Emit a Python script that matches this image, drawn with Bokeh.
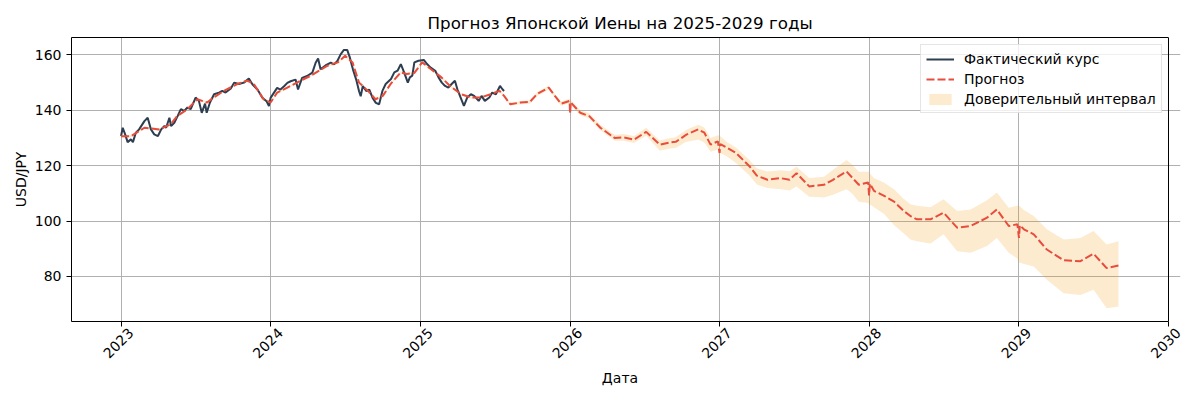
import math
import pandas as pd
from bokeh.plotting import figure
from bokeh.models import (Range1d, FixedTicker, Legend, LegendItem, ColumnDataSource,
                          DatetimeAxis, Span)
from bokeh.embed import file_html
from bokeh.resources import INLINE

# ---------------- data ----------------
actual_dates = [
    "2023-01-01", "2023-01-05", "2023-01-11", "2023-01-17", "2023-01-25", "2023-01-30",
    "2023-02-06", "2023-02-14", "2023-02-27", "2023-03-07", "2023-03-15", "2023-03-23",
    "2023-04-01", "2023-04-09", "2023-04-17", "2023-04-21", "2023-04-29", "2023-05-03",
    "2023-05-11", "2023-05-19", "2023-05-27", "2023-06-04", "2023-06-12", "2023-06-20",
    "2023-07-02", "2023-07-10", "2023-07-17", "2023-07-25", "2023-07-29", "2023-08-06",
    "2023-08-16", "2023-08-28", "2023-09-05", "2023-09-13", "2023-09-26", "2023-10-04",
    "2023-10-16", "2023-10-28", "2023-11-09", "2023-11-18", "2023-11-30", "2023-12-12",
    "2023-12-22", "2023-12-28",
    "2024-01-01", "2024-01-09", "2024-01-17", "2024-01-25", "2024-02-03", "2024-02-11",
    "2024-02-19", "2024-03-02", "2024-03-08", "2024-03-18", "2024-03-30", "2024-04-12",
    "2024-04-20", "2024-04-26", "2024-05-02", "2024-05-14", "2024-05-27", "2024-06-04",
    "2024-06-12", "2024-06-20", "2024-06-28", "2024-07-06", "2024-07-12", "2024-07-20",
    "2024-07-28", "2024-08-04", "2024-08-08", "2024-08-13", "2024-08-22", "2024-08-29",
    "2024-09-06", "2024-09-14", "2024-09-22", "2024-09-30", "2024-10-08", "2024-10-21",
    "2024-10-29", "2024-11-06", "2024-11-14", "2024-11-22", "2024-12-01", "2024-12-06",
    "2024-12-12", "2024-12-17", "2024-12-27",
    "2025-01-09", "2025-01-17", "2025-01-25", "2025-02-06", "2025-02-14", "2025-02-22",
    "2025-03-02", "2025-03-10", "2025-03-18", "2025-03-26", "2025-04-01", "2025-04-09",
    "2025-04-17", "2025-04-25", "2025-05-04", "2025-05-12", "2025-05-23", "2025-05-30",
    "2025-06-07", "2025-06-18", "2025-06-25", "2025-07-04", "2025-07-14", "2025-07-20",
    "2025-07-24",
]
actual_values = [
    130.7, 133.7, 131.3, 128.5, 129.5, 128.5,
    131.9, 133.1, 136.1, 137.3, 133.1, 131.3,
    130.7, 133.1, 134.3, 133.7, 137.3, 134.3,
    135.5, 137.9, 140.4, 139.8, 141.0, 140.4,
    144.6, 143.4, 139.1, 142.4, 139.1, 142.8,
    145.8, 146.4, 147.0, 146.4, 147.9, 150.0,
    149.5, 150.0, 151.5, 149.3, 147.5, 144.5,
    143.3, 141.5,
    144.5, 146.3, 148.1, 147.5, 148.7, 149.9,
    150.5, 151.1, 147.5, 151.7, 152.4, 153.6,
    157.2, 158.7, 154.8, 156.2, 157.2, 156.6,
    157.8, 160.2, 161.8, 161.8, 159.3, 154.8,
    151.1, 146.9, 145.1, 148.7, 146.9, 147.5,
    144.5, 142.7, 142.2, 147.0, 149.5, 151.3,
    153.7, 154.3, 156.7, 153.7, 150.0, 151.9,
    152.5, 157.3, 157.9,
    158.2, 156.7, 155.5, 154.3, 151.9, 150.0,
    148.8, 148.2, 149.5, 150.7, 147.6, 144.6,
    141.6, 144.6, 145.8, 145.2, 143.4, 145.2,
    143.4, 144.6, 146.4, 145.8, 148.8, 147.6,
    147.0,
]

forecast_dates = [
    # 2023
    "2023-01-01", "2023-01-25", "2023-02-27", "2023-04-04", "2023-05-02", "2023-05-18",
    "2023-06-12", "2023-07-06", "2023-07-30", "2023-08-15", "2023-09-09", "2023-10-12",
    "2023-11-05", "2023-11-21", "2023-12-15",
    # 2024
    "2024-01-01", "2024-01-17", "2024-02-11", "2024-03-14", "2024-04-08", "2024-05-19",
    "2024-06-13", "2024-07-01", "2024-07-19", "2024-08-04", "2024-08-26", "2024-09-13",
    "2024-10-01", "2024-10-20", "2024-11-14", "2024-11-28", "2024-12-17",
    # 2025
    "2025-01-05", "2025-01-26", "2025-02-21", "2025-03-14", "2025-04-10", "2025-05-05",
    "2025-05-27", "2025-06-21", "2025-07-13", "2025-07-24",
    "2025-08-08", "2025-09-02", "2025-09-25", "2025-10-12", "2025-11-10", "2025-11-25",
    "2025-12-10", "2025-12-31",
    # 2026
    "2026-01-01", "2026-01-03", "2026-01-26", "2026-02-17", "2026-03-16", "2026-04-20",
    "2026-05-12", "2026-06-06", "2026-07-06", "2026-08-08", "2026-09-02", "2026-09-16",
    "2026-10-12", "2026-11-10", "2026-11-25", "2026-12-10", "2026-12-28",
    # 2027
    "2027-01-01", "2027-01-03", "2027-01-20", "2027-02-10", "2027-03-15", "2027-04-02",
    "2027-04-28", "2027-05-30", "2027-06-21", "2027-07-08", "2027-08-08", "2027-09-13",
    "2027-10-05", "2027-11-07", "2027-11-20", "2027-12-07", "2027-12-30",
    # 2028
    "2028-01-01", "2028-01-03", "2028-01-13", "2028-02-07", "2028-03-02", "2028-03-26",
    "2028-04-11", "2028-04-27", "2028-05-30", "2028-07-01", "2028-08-03", "2028-09-05",
    "2028-10-15", "2028-11-08", "2028-12-07", "2028-12-28",
    # 2029
    "2029-01-01", "2029-01-03", "2029-01-13", "2029-02-06", "2029-03-10", "2029-04-20",
    "2029-05-31", "2029-07-02", "2029-08-03", "2029-09-01",
]
forecast_values = [
    130.6, 130.6, 133.7, 133.1, 134.9, 137.9,
    140.4, 144.0, 142.8, 144.6, 147.0, 149.5,
    150.7, 149.5, 144.0,
    142.8, 146.4, 148.2, 150.7, 152.5, 156.1,
    157.3, 159.7, 157.3, 150.0, 147.0, 144.0,
    145.2, 149.5, 153.7, 153.1, 153.5,
    157.3, 154.9, 151.9, 148.8, 145.8, 144.6,
    144.6, 145.8, 147.0, 145.2,
    142.2, 142.8, 143.0, 145.8, 148.2, 145.2,
    142.4, 143.4,
    138.8, 142.8, 139.1, 137.9, 133.7, 130.0,
    130.2, 129.4, 132.2, 127.6, 128.4, 128.6,
    131.2, 133.1, 131.9, 127.6, 128.8,
    124.6, 127.8, 126.4, 124.6, 119.8, 116.4,
    114.9, 115.5, 114.9, 117.3, 112.5, 113.1,
    114.9, 117.9, 115.8, 113.1, 113.9,
    109.2, 113.5, 110.9, 109.1, 107.0, 103.6,
    101.8, 100.6, 100.6, 103.0, 97.6, 98.2,
    101.2, 104.2, 98.2, 98.8,
    93.9, 98.5, 97.0, 95.2, 89.7, 85.8,
    85.5, 88.2, 83.0, 83.9,
]
ci_lower = [
    130.2, 130.2, 133.3, 132.7, 134.5, 137.5,
    140.0, 143.6, 142.4, 144.2, 146.6, 149.1,
    150.3, 149.1, 143.6,
    142.4, 146.0, 147.8, 150.3, 152.1, 155.7,
    156.9, 159.3, 156.9, 149.6, 146.6, 143.6,
    144.8, 149.1, 153.3, 152.7, 153.1,
    156.9, 154.5, 151.5, 148.4, 145.4, 144.2,
    144.2, 145.4, 146.6, 144.8,
    141.7, 142.2, 142.4, 145.1, 147.5, 144.5,
    141.6, 142.6,
    138.3, 142.0, 138.2, 137.0, 132.8, 129.0,
    129.0, 128.2, 130.8, 125.4, 126.2, 126.4,
    128.6, 129.4, 128.4, 125.0, 125.8,
    121.0, 124.6, 123.2, 121.0, 116.4, 113.2,
    111.9, 111.5, 111.0, 112.5, 108.8, 108.5,
    109.5, 111.5, 110.0, 107.0, 106.5,
    106.0, 106.0, 105.0, 102.5, 98.5, 95.5,
    93.3, 92.7, 91.9, 95.2, 89.1, 88.5,
    91.0, 93.9, 88.5, 86.5,
    84.8, 85.0, 84.5, 83.6, 78.8, 73.9,
    73.3, 75.2, 68.5, 69.1,
]
ci_upper = [
    131.0, 131.0, 134.1, 133.5, 135.3, 138.3,
    140.8, 144.4, 143.2, 145.0, 147.4, 149.9,
    151.1, 149.9, 144.4,
    143.2, 146.8, 148.6, 151.1, 152.9, 156.5,
    157.7, 160.1, 157.7, 150.4, 147.4, 144.4,
    145.6, 149.9, 154.1, 153.5, 153.9,
    157.7, 155.3, 152.3, 149.2, 146.2, 145.0,
    145.0, 146.2, 147.4, 145.6,
    142.7, 143.4, 143.6, 146.5, 148.9, 145.9,
    143.2, 144.2,
    144.0, 143.6, 140.0, 138.9, 134.8, 131.2,
    131.4, 130.7, 133.7, 129.1, 130.0, 130.3,
    133.0, 134.8, 133.8, 130.0, 131.0,
    130.8, 130.6, 128.5, 126.6, 122.0, 119.0,
    117.9, 118.3, 118.0, 119.6, 115.5, 116.0,
    118.5, 122.0, 120.5, 117.8, 117.8,
    117.8, 117.2, 115.5, 113.8, 111.5, 108.0,
    106.1, 105.5, 105.0, 107.9, 103.6, 104.2,
    107.5, 110.3, 104.8, 105.5,
    105.5, 105.3, 104.0, 101.8, 97.0, 93.3,
    93.9, 96.4, 91.5, 92.7,
]

x_tick_dates = ["2023-01-01", "2024-01-01", "2025-01-01", "2026-01-01",
                "2027-01-01", "2028-01-01", "2029-01-01", "2030-01-01"]
x_tick_labels = ["2023", "2024", "2025", "2026", "2027", "2028", "2029", "2030"]
y_ticks = [80, 100, 120, 140, 160]

assert len(actual_dates) == len(actual_values)
assert len(forecast_dates) == len(forecast_values) == len(ci_lower) == len(ci_upper)

# ---------------- plot ----------------
FONT = "DejaVu Sans"
DAY_MS = 86400000.0
LABEL_SHIFT_DAYS = 24   # centres the rotated year labels on their ticks
PLOT_W = 1097           # visible plotting area between the spines, px
EXTRA_PX = 12           # blank strip right of the right spine, so the last label fits

act_src = ColumnDataSource(dict(x=pd.to_datetime(actual_dates), y=actual_values))
fc_src = ColumnDataSource(dict(x=pd.to_datetime(forecast_dates), y=forecast_values,
                               lo=ci_lower, hi=ci_upper))

def ms(d):
    return pd.Timestamp(d).timestamp() * 1000.0

x_start, x_end = ms("2022-09-02"), ms("2030-01-01")
x_end_frame = x_end + EXTRA_PX * (x_end - x_start) / PLOT_W
y_start, y_end = 63.7, 166.3

p = figure(
    width=1200, height=400,
    x_axis_type="datetime",
    output_backend="svg", toolbar_location=None,
    x_range=Range1d(x_start, x_end_frame),
    y_range=Range1d(y_start, y_end),
    min_border_left=71, min_border_right=32 - EXTRA_PX, min_border_top=37, min_border_bottom=79,
    title="Прогноз Японской Иены на 2025-2029 годы",
)
p.background_fill_color = "white"
p.border_fill_color = "white"
p.outline_line_color = None

r_ci = p.varea(x="x", y1="lo", y2="hi", source=fc_src, fill_color="#f39c12", fill_alpha=0.2)
r_act = p.line(x="x", y="y", source=act_src, line_color="#2c3e50", line_width=2)
r_fc = p.line(x="x", y="y", source=fc_src, line_color="#e74c3c", line_width=2, line_dash="8 3")

tick_ms = [ms(d) for d in x_tick_dates]
label_ms = [t + LABEL_SHIFT_DAYS * DAY_MS for t in tick_ms]

# inner axis: bottom spine + tick marks only (labels not drawn)
xa = p.xaxis[0]
xa.ticker = FixedTicker(ticks=tick_ms)
xa.bounds = (x_start, x_end + 1)
xa.major_label_text_color = None
xa.major_label_standoff = 0

# middle axis: rotated year labels, centred on the ticks
xa2 = DatetimeAxis(ticker=FixedTicker(ticks=label_ms))
xa2.major_label_overrides = {t: lab for t, lab in zip(label_ms, x_tick_labels)}
xa2.major_label_orientation = math.pi / 4
xa2.axis_line_color = None
xa2.major_tick_line_color = None
xa2.minor_tick_line_color = None
xa2.major_tick_out = 0
xa2.major_tick_in = 0
xa2.major_label_standoff = 4
p.add_layout(xa2, "below")

# outer axis: the axis title "Дата", centred between the two spines
x_mid = (x_start + x_end) / 2
xa3 = DatetimeAxis(ticker=FixedTicker(ticks=[x_mid]))
xa3.major_label_overrides = {x_mid: "Дата"}
xa3.axis_line_color = None
xa3.major_tick_line_color = None
xa3.minor_tick_line_color = None
xa3.major_tick_out = 0
xa3.major_tick_in = 0
xa3.major_label_standoff = 4
xa3.major_label_orientation = "horizontal"
p.add_layout(xa3, "below")

# top spine
top_ax = DatetimeAxis(ticker=FixedTicker(ticks=[]), bounds=(x_start, x_end + 1))
top_ax.axis_line_color = "black"
top_ax.major_tick_line_color = None
top_ax.minor_tick_line_color = None
top_ax.major_label_text_color = None
top_ax.major_tick_out = 0
top_ax.major_tick_in = 0
top_ax.major_label_standoff = 0
p.add_layout(top_ax, "above")

# right spine
p.add_layout(Span(location=x_end, dimension="height", line_color="black", line_width=1))

p.yaxis.ticker = FixedTicker(ticks=y_ticks)
p.xgrid.ticker = FixedTicker(ticks=tick_ms)
p.ygrid.ticker = FixedTicker(ticks=y_ticks)
p.ygrid.bounds = (x_start, x_end)
p.yaxis.axis_label = "USD/JPY"

for ax in (xa, xa2, xa3, p.yaxis[0]):
    ax.axis_label_text_font = FONT
    ax.axis_label_text_font_size = "14px"
    ax.axis_label_text_font_style = "normal"
    ax.axis_label_text_color = "black"
    ax.major_label_text_font = FONT
    ax.major_label_text_font_size = "14px"

for ax in (xa, p.yaxis[0]):
    ax.axis_line_color = "black"
    ax.major_tick_line_color = "black"
    ax.major_tick_out = 5
    ax.major_tick_in = 0
    ax.minor_tick_line_color = None

p.yaxis.axis_label_standoff = 3
xa2.major_label_text_color = "black"
xa3.major_label_text_color = "black"
p.yaxis.major_label_text_color = "black"

p.grid.grid_line_color = "#b0b0b0"
p.grid.grid_line_width = 1

p.title.text_font = FONT
p.title.text_font_size = "16.7px"
p.title.text_font_style = "normal"
p.title.align = "left"
p.title.offset = 356
p.title.text_color = "black"

legend = Legend(items=[
    LegendItem(label="Фактический курс", renderers=[r_act]),
    LegendItem(label="Прогноз", renderers=[r_fc]),
    LegendItem(label="Доверительный интервал", renderers=[r_ci]),
], location=(849, 208))
legend.label_text_font = FONT
legend.label_text_font_size = "14px"
legend.label_text_color = "black"
legend.border_line_color = "#cccccc"
legend.background_fill_alpha = 0.8
legend.glyph_width = 28
legend.glyph_height = 14
legend.label_height = 17
legend.label_standoff = 10
legend.spacing = 3
legend.padding = 5
legend.margin = 0
p.add_layout(legend)

open("out.html", "w").write(file_html(p, INLINE))
